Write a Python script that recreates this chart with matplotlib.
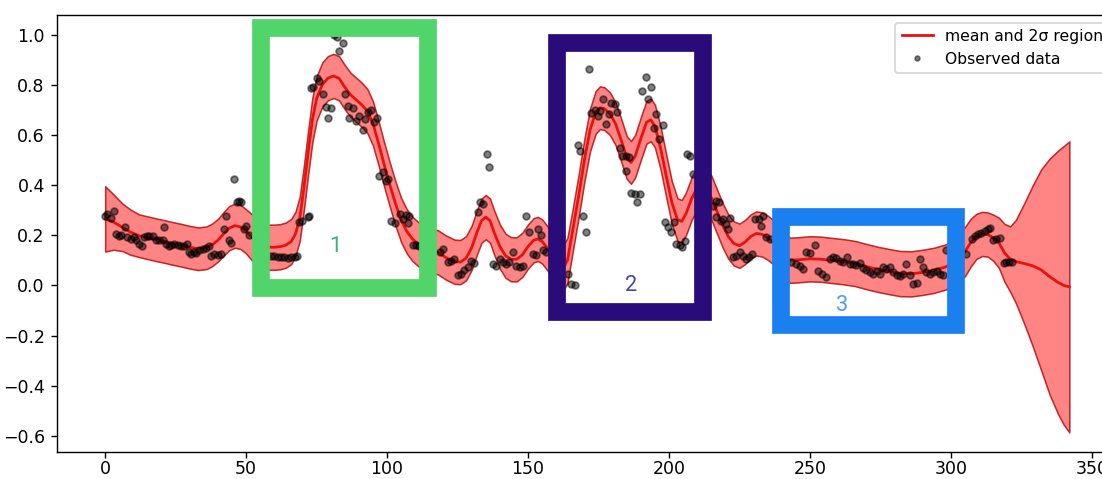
import matplotlib
matplotlib.use("Agg")
import matplotlib.pyplot as plt
from matplotlib.patches import Rectangle
import numpy as np

# ---- GP mean curve ----
mean_x = [0, 3, 6, 9, 12, 15, 18, 21, 24, 27, 30, 33, 36, 38, 40, 42, 44, 46, 48, 50,
          52, 54, 56, 58, 60, 62, 64, 66, 67.5, 69, 70.5, 72, 73.5, 75, 77, 79, 81, 83, 85,
          87, 89, 91, 93, 95, 97, 99, 101, 103, 105, 107, 109, 111, 113, 115, 118, 121,
          124, 126, 128, 130, 132, 133.5, 135, 136.5, 138, 140, 142, 144, 146, 148, 150,
          152, 153.5, 155, 157, 159, 161, 162.5, 164, 166, 168, 170, 172, 174, 175.5, 177,
          179, 181, 183, 185, 186.5, 188, 190, 192, 193.5, 195, 197, 199, 201, 203, 204.5,
          206, 208, 210, 211.5, 213, 215, 217, 219, 221, 223, 225, 227, 229, 231, 233, 235,
          237, 239, 241, 243, 246, 250, 254, 258, 262, 266, 270, 274, 278, 282, 286, 290,
          294, 298, 301, 303, 305, 307, 309, 311, 313, 315, 317, 319, 321, 323, 326, 329,
          332, 335, 338, 340, 342]
mean_y = [0.265, 0.252, 0.232, 0.212, 0.198, 0.190, 0.182, 0.175, 0.167, 0.160, 0.152, 0.146,
          0.150, 0.162, 0.180, 0.205, 0.228, 0.238, 0.233, 0.215,
          0.192, 0.170, 0.158, 0.152, 0.152, 0.154, 0.160, 0.175, 0.205, 0.265, 0.390, 0.530,
          0.660, 0.745, 0.800, 0.826, 0.835, 0.825, 0.790,
          0.760, 0.740, 0.720, 0.695, 0.645, 0.565, 0.480, 0.400, 0.325, 0.260, 0.215, 0.185,
          0.165, 0.150, 0.142, 0.132, 0.110,
          0.094, 0.093, 0.108, 0.150, 0.215, 0.258, 0.272, 0.258, 0.210, 0.155, 0.118, 0.104,
          0.104, 0.122, 0.155,
          0.180, 0.185, 0.175, 0.146, 0.105, 0.075, 0.070, 0.100, 0.230, 0.360, 0.500, 0.620,
          0.690, 0.708, 0.705,
          0.685, 0.645, 0.580, 0.510, 0.490, 0.515, 0.585, 0.650, 0.660, 0.635, 0.548, 0.437,
          0.330, 0.262, 0.255,
          0.285, 0.345, 0.390, 0.398, 0.385, 0.350, 0.295, 0.240, 0.195, 0.167, 0.158, 0.173,
          0.195, 0.207, 0.203, 0.190,
          0.172, 0.140, 0.112, 0.100, 0.102, 0.106, 0.104, 0.099, 0.094, 0.087, 0.075, 0.064,
          0.055, 0.047, 0.046, 0.052,
          0.060, 0.073, 0.090, 0.110, 0.135, 0.170, 0.195, 0.205, 0.203, 0.190, 0.170, 0.130,
          0.105, 0.095, 0.087, 0.078,
          0.062, 0.035, 0.012, 0.000, -0.006]
# half width of the 2-sigma band at the same x positions
band_half = [0.130, 0.110, 0.095, 0.090, 0.085, 0.085, 0.085, 0.085, 0.085, 0.085, 0.085, 0.085,
             0.085, 0.085, 0.085, 0.087, 0.088, 0.088, 0.088, 0.088,
             0.092, 0.092, 0.092, 0.090, 0.090, 0.090, 0.090, 0.090, 0.088, 0.088, 0.088, 0.088,
             0.088, 0.088, 0.088, 0.088, 0.088, 0.088, 0.088,
             0.088, 0.088, 0.088, 0.088, 0.088, 0.088, 0.088, 0.088, 0.088, 0.088, 0.088, 0.088,
             0.088, 0.088, 0.088, 0.088, 0.088,
             0.088, 0.088, 0.088, 0.088, 0.088, 0.088, 0.088, 0.088, 0.088, 0.088, 0.088, 0.088,
             0.088, 0.088, 0.088,
             0.088, 0.088, 0.088, 0.088, 0.090, 0.090, 0.090, 0.090, 0.085, 0.085, 0.085, 0.085,
             0.085, 0.085, 0.085,
             0.085, 0.085, 0.085, 0.085, 0.085, 0.085, 0.085, 0.085, 0.085, 0.085, 0.085, 0.085,
             0.085, 0.085, 0.085,
             0.085, 0.085, 0.085, 0.085, 0.085, 0.088, 0.088, 0.088, 0.088, 0.088, 0.088, 0.088,
             0.088, 0.088, 0.088, 0.088,
             0.088, 0.090, 0.090, 0.090, 0.090, 0.090, 0.090, 0.090, 0.090, 0.090, 0.090, 0.090,
             0.090, 0.090, 0.090, 0.090,
             0.090, 0.090, 0.092, 0.095, 0.098, 0.095, 0.090, 0.088, 0.088, 0.092, 0.100, 0.115,
             0.130, 0.165, 0.240, 0.320,
             0.400, 0.470, 0.525, 0.555, 0.580]

# ---- observed data ----
obs_x = [0, 0.8, 2.0, 3.0, 3.8, 5.0, 5.6, 7.0, 7.9, 9.1, 10.1, 10.9, 12.1, 12.9, 13.8, 14.8,
         15.6, 16.8, 18.0, 19.2, 20.4, 20.9, 21.5, 22.7, 23.5, 24.5, 25.7, 26.9, 27.8, 29.0,
         29.8, 30.6, 31.6, 32.2, 33.4, 34.6, 35.7, 36.9, 37.7, 38.7, 39.9, 41.1, 42.0, 42.8,
         43.8, 44.8, 45.8, 46.7, 47.6, 48.2, 49.1, 49.9, 51.1,
         58.8, 60.0, 61.2, 62.4, 63.6, 64.8, 66.0, 67.2, 68.2,
         68.9, 69.8, 71.8, 72.4, 73.0, 73.8, 75.0, 76.0, 77.1, 78.3, 80.1, 79.2,
         81.3, 82.1, 84.2, 83.1, 85.0,
         86.0, 88.0, 86.6, 89.0, 90.2, 91.3, 92.3, 93.1, 94.3, 95.5, 96.3,
         97.3, 98.7, 99.6, 100.2,
         101.4, 102.9, 104.4, 105.5, 106.7, 107.9, 107.3, 109.1, 110.3, 111.2,
         118.6, 120.0, 121.5, 122.6, 123.9, 125.1, 126.3, 127.4, 128.6, 129.8, 131.0,
         132.2, 132.8, 133.9, 135.4, 136.3, 137.5, 138.7, 139.9, 141.1, 142.2, 143.4, 144.6,
         145.8, 147.0, 148.1, 149.3, 150.5, 151.7, 152.9, 153.5, 154.6, 155.2, 156.4,
         164.1, 165.3, 166.5, 169.4, 170.6, 167.7, 168.5, 171.6, 172.4, 173.6, 174.8, 175.6,
         176.6, 177.7, 178.7, 179.5, 180.7, 181.5, 182.5, 183.4, 184.8, 184.6, 185.8, 186.6,
         187.8, 188.6, 189.6, 190.5, 191.7, 193.7, 192.7, 194.5, 195.5, 196.6, 197.8, 198.4,
         199.6, 200.8, 201.6, 202.6, 203.8, 204.7, 205.5, 206.5, 207.6, 208.5,
         215.6, 216.8, 217.7, 216.5, 218.6, 219.2, 220.1, 221.0, 221.8, 222.7, 223.9, 225.1,
         226.2, 227.4, 228.4, 229.6, 230.6, 231.9, 232.7, 233.5, 234.5, 235.7,
         243.4, 245.2, 246.4, 247.5, 248.7, 249.9, 251.7, 252.9, 254.1, 255.6, 257.0, 258.2,
         259.4, 260.6, 261.8, 263.0, 264.1, 265.3, 266.5, 267.7, 268.9, 270.0, 271.2, 272.4,
         273.6, 274.8, 275.9, 277.1, 278.3, 279.5, 280.7, 281.8, 283.0, 284.2, 285.4, 286.6,
         287.8, 288.9, 290.1, 291.3, 292.5, 293.7, 294.9, 296.0, 297.2, 298.4,
         305.5, 307.3, 308.5, 309.6, 310.8, 312.0, 313.2, 314.0, 314.9, 316.1, 317.3, 318.8,
         319.7, 320.7, 321.6]
obs_y = [0.275, 0.285, 0.267, 0.298, 0.205, 0.198, 0.201, 0.232, 0.192, 0.185, 0.192, 0.179,
         0.165, 0.156, 0.192, 0.196, 0.198, 0.196, 0.179, 0.181, 0.179, 0.232, 0.165, 0.156,
         0.159, 0.165, 0.162, 0.156, 0.156, 0.165, 0.132, 0.126, 0.132, 0.128, 0.139, 0.146,
         0.148, 0.156, 0.116, 0.126, 0.122, 0.126, 0.225, 0.278, 0.179, 0.170, 0.423, 0.333,
         0.337, 0.334, 0.225, 0.238, 0.201,
         0.119, 0.117, 0.115, 0.112, 0.114, 0.110, 0.112, 0.114, 0.117,
         0.254, 0.258, 0.271, 0.275, 0.787, 0.791, 0.827, 0.816, 0.761, 0.712, 0.708, 0.668,
         0.999, 0.992, 0.968, 0.933, 0.761,
         0.714, 0.708, 0.668, 0.655, 0.677, 0.619, 0.664, 0.690, 0.698, 0.651, 0.668,
         0.437, 0.450, 0.417, 0.423,
         0.258, 0.249, 0.285, 0.265, 0.281, 0.278, 0.249, 0.161, 0.159, 0.156,
         0.132, 0.146, 0.093, 0.099, 0.106, 0.040, 0.046, 0.060, 0.073, 0.099, 0.090,
         0.291, 0.333, 0.324, 0.523, 0.470, 0.086, 0.079, 0.106, 0.093, 0.086, 0.093, 0.132,
         0.079, 0.073, 0.079, 0.275, 0.211, 0.126, 0.122, 0.225, 0.201, 0.139, 0.132,
         0.046, 0.007, 0.003, 0.278, 0.212, 0.558, 0.536, 0.864, 0.688, 0.701, 0.675, 0.695,
         0.741, 0.642, 0.682, 0.728, 0.725, 0.690, 0.549, 0.516, 0.516, 0.456, 0.513, 0.368,
         0.364, 0.333, 0.364, 0.774, 0.830, 0.790, 0.741, 0.629, 0.684, 0.582, 0.638, 0.251,
         0.231, 0.214, 0.254, 0.165, 0.159, 0.152, 0.175, 0.522, 0.516, 0.443,
         0.317, 0.337, 0.331, 0.271, 0.258, 0.265, 0.245, 0.225, 0.267, 0.112, 0.116, 0.132,
         0.119, 0.106, 0.112, 0.126, 0.265, 0.265, 0.238, 0.278, 0.192, 0.185,
         0.093, 0.086, 0.079, 0.066, 0.132, 0.130, 0.159, 0.059, 0.046, 0.033, 0.106, 0.112,
         0.108, 0.099, 0.093, 0.112, 0.086, 0.086, 0.082, 0.090, 0.069, 0.063, 0.053, 0.046,
         0.056, 0.046, 0.073, 0.066, 0.073, 0.053, 0.040, 0.037, 0.046, 0.086, 0.040, 0.007,
         0.011, 0.106, 0.073, 0.053, 0.046, 0.053, 0.056, 0.046, 0.042, 0.139,
         0.126, 0.185, 0.198, 0.205, 0.209, 0.218, 0.225, 0.228, 0.179, 0.185, 0.188, 0.090,
         0.093, 0.095, 0.093]

# ---- annotation boxes (data coordinates) ----
box_labels = ["1", "2", "3"]

fig = plt.figure(figsize=(1102 / 125, 479 / 125), dpi=125)
ax = fig.add_axes([0.0517, 0.0560, 0.9624, 0.9133])

mx = np.array(mean_x)
my = np.array(mean_y)
hw = np.array(band_half)

ax.fill_between(mx, my - hw, my + hw, facecolor=(1, 0, 0, 0.48),
                edgecolor=(0.72, 0.05, 0.05, 0.85), linewidth=0.9, zorder=1)
ax.plot(mx, my, color='#e8120c', linewidth=1.6, zorder=2, label='mean and 2σ region')
ax.plot(obs_x, obs_y, 'k.', alpha=0.5, markersize=7.8, zorder=3, label='Observed data')

ax.set_xlim(-17.1, 359.1)
ax.set_ylim(-0.665, 1.079)
ax.set_xticks([0, 50, 100, 150, 200, 250, 300, 350])
ax.set_yticks([-0.6, -0.4, -0.2, 0.0, 0.2, 0.4, 0.6, 0.8, 1.0])
ax.tick_params(axis='x', pad=1.0)

leg = ax.legend(loc='upper right', fontsize=9, markerscale=0.7)
leg.set_zorder(10)

# highlight boxes
box_specs = [
    (55.3, -0.010, 114.6, 1.027, '#51d46a', '#3cb37a', 81.6, 0.154),
    (160.2, -0.106, 212.0, 0.968, '#2a0b7a', '#4646ad', 186.4, 0.0),
    (239.7, -0.157, 301.7, 0.271, '#1a80f0', '#4aa2dc', 261.5, -0.079),
]
for (x0, y0, x1, y1, ec, tc, tx, ty), lab in zip(box_specs, box_labels):
    r = Rectangle((x0, y0), x1 - x0, y1 - y0, fill=False, edgecolor=ec,
                  linewidth=10.2, joinstyle='miter', clip_on=False, zorder=5)
    ax.add_patch(r)
    ax.text(tx, ty, lab, color=tc, fontsize=12.5, family=['Roboto', 'DejaVu Sans'],
            ha='center', va='center', zorder=6)

fig.savefig('out.png', dpi=125)
